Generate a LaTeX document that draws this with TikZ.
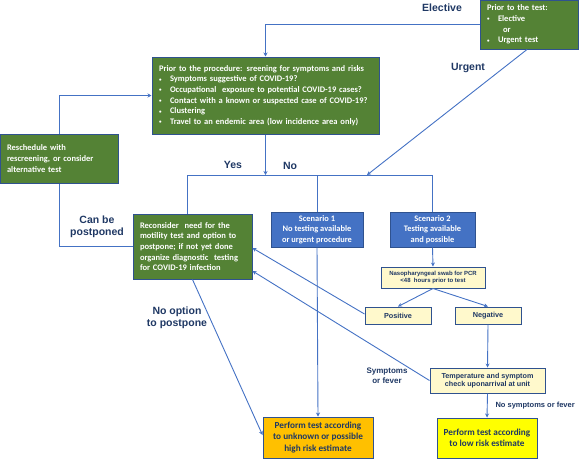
\documentclass[tikz,border=0pt]{standalone}
\usepackage{fontspec}
\setmainfont{Carlito}
\newfontfamily\arialfont{Liberation Sans}
\usetikzlibrary{arrows.meta}
\definecolor{boxgreen}{HTML}{548235}
\definecolor{boxblue}{HTML}{4472C4}
\definecolor{edgeblue}{HTML}{2F528F}
\definecolor{linkblue}{HTML}{4472C4}
\definecolor{navy}{HTML}{1F3864}
\definecolor{paleyellow}{HTML}{FFF9CC}
\definecolor{riskorange}{HTML}{FFC000}
\definecolor{riskyellow}{HTML}{FFFF00}
\newcommand{\bul}{\makebox[11pt][l]{\raisebox{0.6pt}{\fontsize{5}{5}\selectfont\textbullet}}}
\tikzset{base node/.style={rectangle,draw=edgeblue,line width=1pt,inner sep=0pt},
         green node/.style={base node,fill=boxgreen,text=white,align=left,inner xsep=7pt,
                            font=\bfseries\fontsize{8.5}{10.6}\selectfont},
         blue node/.style={base node,fill=boxblue,text=white,align=center,
                           font=\bfseries\fontsize{8.4}{10.7}\selectfont},
         pale node/.style={base node,fill=paleyellow,text=navy,align=center},
         risk node/.style={base node,text=navy,align=center,
                           font=\bfseries\fontsize{9.2}{11.2}\selectfont},
         link/.style={draw=linkblue,line width=0.9pt},
         arrow/.style={link,-{Stealth[length=4pt,width=4pt]}},
         label text/.style={text=navy,align=center,font=\arialfont\bfseries\fontsize{10.5}{12}\selectfont},
            }

\begin{document}
\begin{tikzpicture}[x=1pt,y=-1pt]
    \useasboundingbox (0,0) rectangle (580,459);

    \node[green node,text width=84pt,minimum height=49pt] (test) at (529,24.5)
        {Prior to the test:\\\bul Elective\\\hspace{16pt}or\\\bul Urgent test};
    \node[green node,text width=213pt,minimum height=77pt] (screen) at (265.5,95.5)
        {Prior to the procedure: sreening for symptoms and risks\\
         \bul Symptoms suggestive of COVID-19?\\
         \bul Occupational\ \ exposure to potential COVID-19 cases?\\
         \bul Contact with a known or suspected case of COVID-19?\\
         \bul Clustering\\
         \bul Travel to an endemic area (low incidence area only)};
    \node[green node,text width=104pt,minimum height=49pt] (resched) at (59,158.5)
        {Reschedule with\\rescreening, or consider\\alternative test};
    \node[green node,text width=105pt,minimum height=65pt] (recons) at (192.5,246.5)
        {Reconsider\ \ need for the\\motility test and option to\\postpone; if not yet done\\organize diagnostic\ \ testing\\for COVID-19 infection};
    \node[blue node,minimum width=92pt,minimum height=35pt] (scen1) at (317,229.5)
        {Scenario 1\\No testing available\\or urgent procedure};
    \node[blue node,minimum width=85pt,minimum height=35pt] (scen2) at (432.5,229.5)
        {Scenario 2\\Testing available\\and possible};
    \node[pale node,minimum width=104pt,minimum height=21pt,
          font=\arialfont\bfseries\fontsize{6}{7.5}\selectfont] (swab) at (433,277.5)
        {Nasopharyngeal swab for PCR\\<48\ \ hours prior to test};
    \node[pale node,minimum width=66pt,minimum height=17pt,
          font=\arialfont\bfseries\fontsize{7.3}{8}\selectfont] (pos) at (398,315.5) {Positive};
    \node[pale node,minimum width=66pt,minimum height=17pt,
          font=\arialfont\bfseries\fontsize{7.3}{8}\selectfont] (neg) at (488,315.5) {Negative};
    \node[pale node,minimum width=115pt,minimum height=25pt,
          font=\arialfont\bfseries\fontsize{7.2}{8.6}\selectfont] (temp) at (487.5,380.5)
        {Temperature and symptom\\check uponarrival at unit};
    \node[risk node,fill=riskorange,minimum width=110pt,minimum height=41pt] (high) at (318,437.5)
        {Perform test according\\to unknown or possible\\high risk estimate};
    \node[risk node,fill=riskyellow,minimum width=100pt,minimum height=40pt] (low) at (487,438)
        {Perform test according\\to low risk estimate};

    \coordinate (urg) at (367,175);
    \coordinate (split) at (187,175);
    \coordinate (yn) at (265.5,175);

    % connectors
    \path[arrow] (test.west) -| (screen.north);
    \path[arrow] ([xshift=-2pt]test.south) -- (urg);
    \path[arrow] (screen.south) -- (yn);
    \path[link] (split |- recons.north) -- (split) -- (split -| scen2.north) -- (scen2.north);
    \path[link] (scen1.north |- split) -- (scen1.north);
    \path[arrow] (scen2.south) -- (swab.north);
    \path[arrow] (swab.south) -- (pos.north);
    \path[arrow] (swab.south) -- (neg.north);
    \path[arrow] (neg.south) -- (temp.north);
    \path[arrow] (temp.south) -- (low.north);
    \path[arrow] (scen1.south) -- (high.north);
    \path[arrow] ([yshift=1.5pt]pos.west) -- ([yshift=-1.5pt]recons.east);
    \path[arrow] (temp.west) -- ([yshift=-24.5pt]recons.east);
    \path[arrow] (recons.south) -- ([yshift=2.5pt]high.west);
    \path[link] (recons.west) -| (resched.south);
    \path[arrow] (resched.north) |- (screen.west);

    % labels
    \node[label text] (elec) at (442,8) {Elective};
    \node[label text] (urgl) at (468,68) {Urgent};
    \node[label text] (yes) at (233,165) {Yes};
    \node[label text] (no) at (290,166) {No};
    \node[label text] (canpost) at (97,227) {Can be\\postponed};
    \node[label text] (noopt) at (177,318) {No option\\to postpone};
    \node[label text,font=\arialfont\bfseries\fontsize{8}{10}\selectfont] (sympt) at (387,376) {Symptoms\\or fever};
    \node[label text,anchor=west,font=\arialfont\bfseries\fontsize{7.5}{10}\selectfont] (nosympt) at (492,406) {No symptoms or fever};
\end{tikzpicture}
\end{document}
